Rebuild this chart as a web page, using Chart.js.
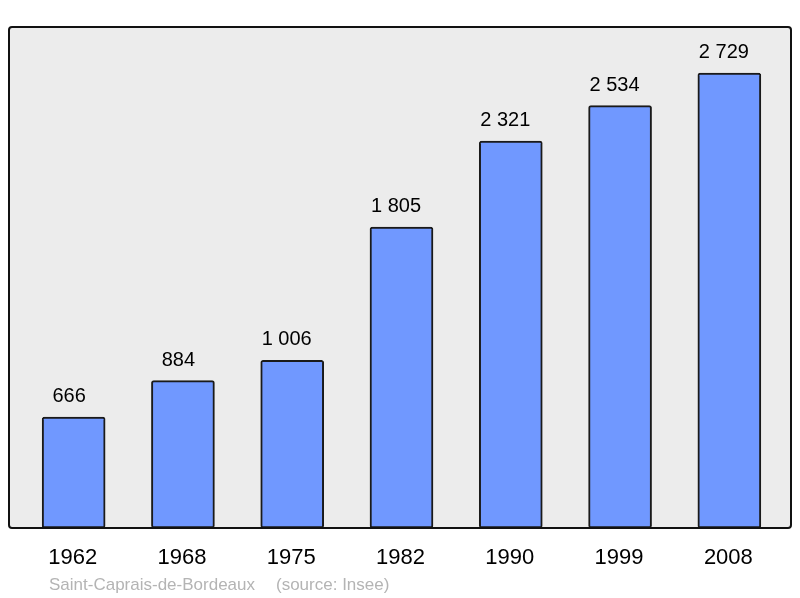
<!DOCTYPE html>
<html><head><meta charset="utf-8">
<script src="https://cdn.jsdelivr.net/npm/chart.js@4/dist/chart.umd.min.js"></script>
<style>html,body{margin:0;padding:0;background:#fff}#wrap{width:800px;height:598px}</style>
</head><body><div id="wrap"><canvas id="c" width="800" height="598"></canvas></div>
<script>
const years = ["1962","1968","1975","1982","1990","1999","2008"];
const population = [666, 884, 1006, 1805, 2321, 2534, 2729];
const footerName = "Saint-Caprais-de-Bordeaux";
const footerSource = "(source: Insee)";

function fmt(v){ return String(v).replace(/\B(?=(\d{3})+(?!\d))/g, " "); }
const FONT = '"Liberation Sans", Arial, sans-serif';

function roundRect(ctx,x,y,w,h,r){
  ctx.beginPath();
  ctx.moveTo(x+r,y);ctx.lineTo(x+w-r,y);ctx.quadraticCurveTo(x+w,y,x+w,y+r);
  ctx.lineTo(x+w,y+h-r);ctx.quadraticCurveTo(x+w,y+h,x+w-r,y+h);
  ctx.lineTo(x+r,y+h);ctx.quadraticCurveTo(x,y+h,x,y+h-r);
  ctx.lineTo(x,y+r);ctx.quadraticCurveTo(x,y,x+r,y);ctx.closePath();
}

const deco = {
  id:'deco',
  beforeDatasetsDraw(chart){
    const ctx=chart.ctx;
    ctx.save();
    roundRect(ctx,9,27,782,501,3);
    ctx.fillStyle='#ececec';ctx.fill();
    ctx.restore();
  },
  afterDatasetsDraw(chart){
    const ctx=chart.ctx;
    ctx.save();
    roundRect(ctx,9,27,782,501,3);
    ctx.lineWidth=2;ctx.strokeStyle='#111';ctx.stroke();
    const meta=chart.getDatasetMeta(0);
    const xs=chart.scales.x;
    ctx.fillStyle='#000';ctx.textAlign='center';ctx.textBaseline='alphabetic';
    ctx.font='20px '+FONT;
    meta.data.forEach((bar,i)=>{
      const t=fmt(population[i]);
      const off = t.length<=3 ? -4.5 : -5.5;
      ctx.fillText(t, bar.x+off, bar.y-15);
    });
    ctx.font='22px '+FONT;
    years.forEach((y,i)=>{
      ctx.fillText(y, xs.getPixelForValue(i)-1, 564);
    });
    ctx.font='17px '+FONT;ctx.fillStyle='#b4b4b4';ctx.textAlign='left';
    ctx.fillText(footerName,49,590);
    ctx.fillText(footerSource,276,590);
    ctx.restore();
  }
};

new Chart(document.getElementById('c'),{
  type:'bar',
  data:{labels:years,datasets:[{data:population,backgroundColor:'#7098ff',borderColor:'#1a1a1a',borderWidth:2,borderRadius:2.5,borderSkipped:false,barThickness:63}]},
  options:{
    responsive:false,animation:false,devicePixelRatio:1,
    layout:{padding:{left:19,right:16,top:28,bottom:70}},
    plugins:{legend:{display:false},tooltip:{enabled:false}},
    scales:{
      x:{display:false},
      y:{display:false,min:0,max:3000}
    }
  },
  plugins:[deco]
});
</script></body></html>
